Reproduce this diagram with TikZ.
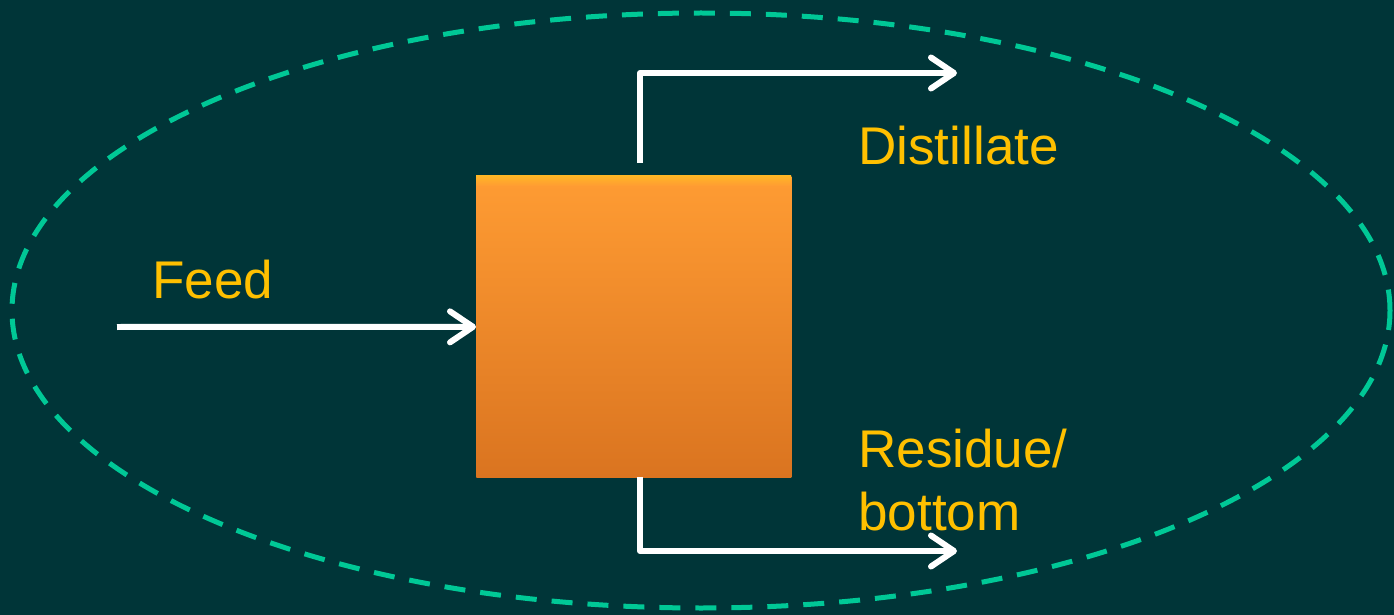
\documentclass[tikz,border=0pt]{standalone}
\usepackage{fontspec}
\setmainfont{Liberation Sans}
\usetikzlibrary{arrows.meta,shapes.geometric}
\definecolor{bg}{HTML}{003538}
\definecolor{ring}{HTML}{00C896}
\definecolor{lbl}{HTML}{FFC000}
\definecolor{otop}{HTML}{FF9C33}
\definecolor{obot}{HTML}{DA7420}
\tikzset{
  flow/.style={draw=white, line width=0.12cm, line join=round,
    -{Straight Barb[length=0.46cm, width=0.62cm, line cap=round, line join=round]}},
  lab/.style={text=lbl, font=\fontsize{30.2pt}{36pt}\selectfont, anchor=base west, inner sep=0pt}
}
\begin{document}
\begin{tikzpicture}[x=0.02cm, y=-0.02cm]
\fill[bg] (0,0) rectangle (1394,615);
\useasboundingbox (0,0) rectangle (1394,615);
% system boundary
\node[draw=ring, dashed, dash pattern=on 0.42cm off 0.3cm, line width=0.1cm,
  ellipse, minimum width=1378*0.02cm, minimum height=595*0.02cm, inner sep=0pt] (sys) at (701,310.5) {};
% column
\node[top color=otop, bottom color=obot, minimum width=315*0.02cm, minimum height=301*0.02cm,
  inner sep=0pt, anchor=north west] (col) at (476,176) {};
\fill[top color=otop!75!yellow, bottom color=otop] (476,176) rectangle (791,186);
% coordinates
\coordinate (fin) at (117,327);
\coordinate (dtop) at (640,163);
\coordinate (dcorner) at (640,73);
\coordinate (dout) at (957,73);
\coordinate (bbot) at (640,477);
\coordinate (bcorner) at (640,551);
\coordinate (bout) at (957,551);
% flows
\draw[flow] (fin) -- (col.west);
\draw[flow] (dtop) -- (dcorner) -- (dout);
\draw[flow] (bbot) -- (bcorner) -- (bout);
% labels
\node[lab] (feed) at (152,298) {Feed};
\node[lab] (dist) at (858,165) {Distillate};
\node[lab] (res) at (858,467) {Residue/};
\node[lab] (bot) at (858,530) {bottom};
\end{tikzpicture}
\end{document}
